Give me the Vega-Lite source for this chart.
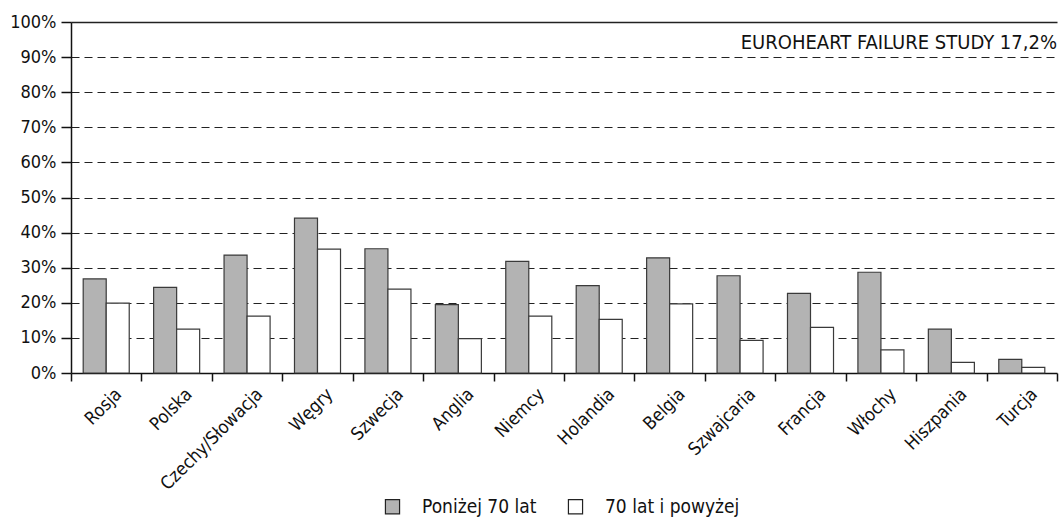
{
  "$schema": "https://vega.github.io/schema/vega-lite/v6.json",
  "width": 986,
  "height": 351,
  "autosize": {"type": "none"},
  "padding": {"left": 71, "top": 22, "right": 2, "bottom": 146},
  "background": "white",
  "config": {
    "view": {"stroke": null},
    "font": "DejaVu Sans Condensed, Liberation Sans, sans-serif"
  },
  "title": {
    "text": "EUROHEART FAILURE STUDY 17,2%",
    "anchor": "end",
    "orient": "top",
    "frame": "group",
    "offset": -40,
    "font": "DejaVu Sans Condensed, Liberation Sans, sans-serif",
    "fontSize": 20,
    "fontWeight": "normal",
    "color": "#111"
  },
  "data": {
    "values": [
      {"kraj": "Rosja", "grupa": "Poniżej 70 lat", "v": 26.8},
      {"kraj": "Rosja", "grupa": "70 lat i powyżej", "v": 19.9},
      {"kraj": "Polska", "grupa": "Poniżej 70 lat", "v": 24.4},
      {"kraj": "Polska", "grupa": "70 lat i powyżej", "v": 12.5},
      {"kraj": "Czechy/Słowacja", "grupa": "Poniżej 70 lat", "v": 33.6},
      {"kraj": "Czechy/Słowacja", "grupa": "70 lat i powyżej", "v": 16.2},
      {"kraj": "Węgry", "grupa": "Poniżej 70 lat", "v": 44.1},
      {"kraj": "Węgry", "grupa": "70 lat i powyżej", "v": 35.3},
      {"kraj": "Szwecja", "grupa": "Poniżej 70 lat", "v": 35.4},
      {"kraj": "Szwecja", "grupa": "70 lat i powyżej", "v": 23.9},
      {"kraj": "Anglia", "grupa": "Poniżej 70 lat", "v": 19.5},
      {"kraj": "Anglia", "grupa": "70 lat i powyżej", "v": 9.8},
      {"kraj": "Niemcy", "grupa": "Poniżej 70 lat", "v": 31.8},
      {"kraj": "Niemcy", "grupa": "70 lat i powyżej", "v": 16.2},
      {"kraj": "Holandia", "grupa": "Poniżej 70 lat", "v": 24.9},
      {"kraj": "Holandia", "grupa": "70 lat i powyżej", "v": 15.3},
      {"kraj": "Belgia", "grupa": "Poniżej 70 lat", "v": 32.8},
      {"kraj": "Belgia", "grupa": "70 lat i powyżej", "v": 19.7},
      {"kraj": "Szwajcaria", "grupa": "Poniżej 70 lat", "v": 27.7},
      {"kraj": "Szwajcaria", "grupa": "70 lat i powyżej", "v": 9.3},
      {"kraj": "Francja", "grupa": "Poniżej 70 lat", "v": 22.7},
      {"kraj": "Francja", "grupa": "70 lat i powyżej", "v": 13.0},
      {"kraj": "Włochy", "grupa": "Poniżej 70 lat", "v": 28.7},
      {"kraj": "Włochy", "grupa": "70 lat i powyżej", "v": 6.6},
      {"kraj": "Hiszpania", "grupa": "Poniżej 70 lat", "v": 12.5},
      {"kraj": "Hiszpania", "grupa": "70 lat i powyżej", "v": 3.0},
      {"kraj": "Turcja", "grupa": "Poniżej 70 lat", "v": 3.9},
      {"kraj": "Turcja", "grupa": "70 lat i powyżej", "v": 1.6}
    ]
  },
  "mark": {"type": "bar", "stroke": "#3a3a3a", "strokeWidth": 1.2},
  "encoding": {
    "x": {
      "field": "kraj",
      "type": "nominal",
      "sort": null,
      "scale": {"paddingInner": 0, "paddingOuter": 0},
      "axis": {
        "title": null,
        "tickBand": "extent",
        "domainColor": "#111",
        "domainWidth": 1.5,
        "tickColor": "#111",
        "tickWidth": 1.5,
        "tickSize": 8,
        "labelAngle": -45,
        "labelAlign": "right",
        "labelBaseline": "top",
        "labelPadding": 4,
        "labelOffset": 6,
        "labelFontSize": 18,
        "labelColor": "#111",
        "grid": false
      }
    },
    "xOffset": {
      "field": "grupa",
      "type": "nominal",
      "sort": ["Poniżej 70 lat", "70 lat i powyżej"],
      "scale": {"paddingInner": 0, "paddingOuter": 0.53}
    },
    "y": {
      "field": "v",
      "type": "quantitative",
      "scale": {"domain": [0, 100], "nice": false},
      "axis": {
        "title": null,
        "values": [0, 10, 20, 30, 40, 50, 60, 70, 80, 90, 100],
        "labelExpr": "datum.value + '%'",
        "labelFontSize": 18,
        "labelColor": "#111",
        "labelPadding": 5,
        "domainColor": "#111",
        "domainWidth": 1.5,
        "tickColor": "#111",
        "tickWidth": 1.5,
        "tickSize": 10,
        "grid": true,
        "gridColor": "#222",
        "gridWidth": {"condition": {"test": "datum.value === 100", "value": 1.5}, "value": 1.2},
        "gridDash": {"condition": {"test": "datum.value === 100", "value": []}, "value": [8, 5]},
        "gridOpacity": {"condition": {"test": "datum.value === 0", "value": 0}, "value": 1}
      }
    },
    "fill": {
      "field": "grupa",
      "type": "nominal",
      "sort": ["Poniżej 70 lat", "70 lat i powyżej"],
      "scale": {"domain": ["Poniżej 70 lat", "70 lat i powyżej"], "range": ["#b3b3b3", "#ffffff"]},
      "legend": {
        "title": null,
        "orient": "none",
        "direction": "horizontal",
        "legendX": 312,
        "legendY": 475,
        "symbolType": "square",
        "symbolSize": 200,
        "symbolStrokeColor": "#222",
        "symbolStrokeWidth": 1.2,
        "labelFontSize": 19,
        "labelColor": "#111",
        "labelOffset": 20,
        "columnPadding": 29
      }
    }
  }
}
